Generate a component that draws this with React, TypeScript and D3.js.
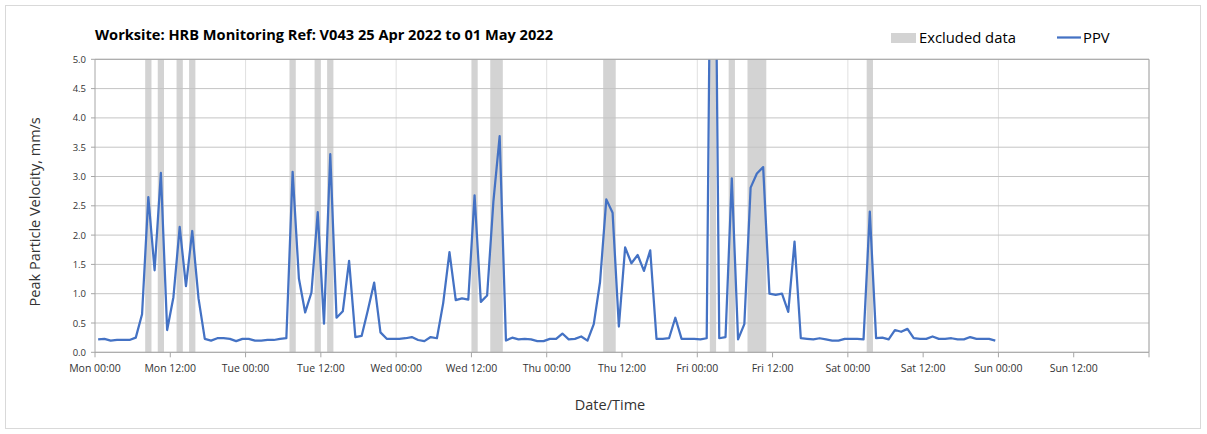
import React from "react";
import * as d3 from "d3";

const TITLE = "Worksite: HRB Monitoring Ref: V043 25 Apr 2022 to 01 May 2022";
const Y_TITLE = "Peak Particle Velocity, mm/s";
const X_TITLE = "Date/Time";

// hourly PPV (mm/s), sample at hour index + 0.5 from Mon 00:00
const ppv: number[] = [
  0.22, 0.23, 0.2, 0.21, 0.21, 0.21, 0.25, 0.65, 2.65, 1.4,
  3.06, 0.38, 0.94, 2.14, 1.13, 2.07, 0.92, 0.23, 0.2, 0.24,
  0.24, 0.23, 0.19, 0.23, 0.23, 0.2, 0.2, 0.21, 0.21, 0.23,
  0.24, 3.08, 1.26, 0.68, 1.02, 2.39, 0.49, 3.38, 0.59, 0.7,
  1.56, 0.26, 0.28, 0.72, 1.19, 0.34, 0.23, 0.23, 0.23, 0.24,
  0.26, 0.21, 0.19, 0.26, 0.24, 0.84, 1.71, 0.89, 0.92, 0.9,
  2.68, 0.86, 0.97, 2.57, 3.69, 0.2, 0.25, 0.22, 0.23, 0.22,
  0.19, 0.19, 0.23, 0.23, 0.32, 0.22, 0.23, 0.27, 0.2, 0.48,
  1.2, 2.61, 2.38, 0.44, 1.79, 1.52, 1.66, 1.39, 1.74, 0.23,
  0.23, 0.24, 0.59, 0.23, 0.23, 0.23, 0.22, 0.24, 12.0, 0.24,
  0.26, 2.97, 0.22, 0.48, 2.81, 3.05, 3.16, 1.0, 0.98, 1.0,
  0.69, 1.89, 0.24, 0.23, 0.22, 0.24, 0.22, 0.2, 0.2, 0.23,
  0.23, 0.23, 0.22, 2.4, 0.24, 0.25, 0.22, 0.38, 0.35, 0.4,
  0.24, 0.23, 0.23, 0.27, 0.23, 0.23, 0.24, 0.22, 0.22, 0.26,
  0.23, 0.23, 0.23, 0.2,
];

// hour bins flagged as excluded data
const excludedHours: number[] = [8, 10, 13, 15, 31, 35, 37, 60, 63, 64, 81, 82, 98, 101, 104, 105, 106, 123];

const xTickLabels: string[] = [
  "Mon 00:00", "Mon 12:00", "Tue 00:00", "Tue 12:00", "Wed 00:00", "Wed 12:00",
  "Thu 00:00", "Thu 12:00", "Fri 00:00", "Fri 12:00", "Sat 00:00", "Sat 12:00",
  "Sun 00:00", "Sun 12:00",
];
const yTicks: number[] = [0, 0.5, 1, 1.5, 2, 2.5, 3, 3.5, 4, 4.5, 5];

const W = 1207;
const H = 434;
const L = 95;
const R = 1149;
const T = 59.3;
const B = 352.3;
const FONT = "'Open Sans', 'Noto Sans', sans-serif";

function spans(hours: number[]): [number, number][] {
  const s = [...hours].sort((a, b) => a - b);
  const out: [number, number][] = [];
  for (const h of s) {
    const last = out[out.length - 1];
    if (last && last[1] === h) last[1] = h + 1;
    else out.push([h, h + 1]);
  }
  return out;
}

export default function App() {
  const x = d3.scaleLinear().domain([0, 168]).range([L, R]);
  const y = d3.scaleLinear().domain([0, 5]).range([B, T]);
  const pts: [number, number][] = ppv.map((v, i) => [i + 0.5, v]);
  const line = d3
    .line<[number, number]>()
    .x((d) => x(d[0]))
    .y((d) => y(d[1]));
  const xTicks = d3.range(0, 169, 12);
  const dayLines = d3.range(24, 169, 24);
  const bands = spans(excludedHours);

  return (
    <svg width={W} height={H} style={{ position: "absolute", left: 0, top: 0, background: "#fff" }}>
      <defs>
        <clipPath id="plotClip">
          <rect x={L} y={T} width={R - L} height={B - T} />
        </clipPath>
      </defs>
      <rect x={5.5} y={5.5} width={1195} height={423} fill="#fff" stroke="#d9d9d9" />
      <text x={95} y={40} fontFamily={FONT} fontWeight="bold" fontSize={14.6} fill="#000">
        {TITLE}
      </text>

      {/* vertical day gridlines */}
      {dayLines.map((t) => (
        <line key={"vg" + t} x1={x(t)} x2={x(t)} y1={T} y2={B} stroke="#e0e0e0" strokeWidth={1} />
      ))}

      {/* excluded bands */}
      {bands.map(([a, b]) => (
        <rect key={"ex" + a} x={x(a)} y={T} width={x(b) - x(a)} height={B - T} fill="#d3d3d3" />
      ))}

      {/* horizontal gridlines */}
      {yTicks.map((v) => (
        <line key={"hg" + v} x1={L} x2={R} y1={y(v)} y2={y(v)} stroke="#c4c4c4" strokeWidth={1} />
      ))}

      {/* data line */}
      <path d={line(pts) || ""} fill="none" stroke="#4472C4" strokeWidth={2.25} strokeLinejoin="round" clipPath="url(#plotClip)" />

      {/* axes */}
      <line x1={L} x2={L} y1={T} y2={B} stroke="#a6a6a6" />
      <line x1={R} x2={R} y1={T} y2={B} stroke="#a6a6a6" />
      <line x1={L} x2={R} y1={B} y2={B} stroke="#a6a6a6" />
      <line x1={L} x2={R} y1={T} y2={T} stroke="#a6a6a6" />
      {yTicks.map((v) => (
        <g key={"yt" + v}>
          <line x1={L - 4} x2={L} y1={y(v)} y2={y(v)} stroke="#a6a6a6" />
          <text x={L - 9} y={y(v) + 3.5} textAnchor="end" fontFamily={FONT} fontSize={9.5} fill="#333">
            {v.toFixed(1)}
          </text>
        </g>
      ))}
      {xTicks.map((t, i) => (
        <g key={"xt" + t}>
          <line x1={x(t)} x2={x(t)} y1={B} y2={B + 5} stroke="#a6a6a6" />
          {xTickLabels[i] !== undefined && (
            <text x={x(t)} y={372} textAnchor="middle" fontFamily={FONT} fontSize={10.5} fill="#333">
              {xTickLabels[i]}
            </text>
          )}
        </g>
      ))}

      <text x={610} y={410} textAnchor="middle" fontFamily={FONT} fontSize={14.5} fill="#333">
        {X_TITLE}
      </text>
      <text
        transform={`translate(40, ${(T + B) / 2 + 6}) rotate(-90)`}
        textAnchor="middle"
        fontFamily={FONT}
        fontSize={14.5}
        fill="#333"
      >
        {Y_TITLE}
      </text>

      {/* legend */}
      <rect x={891} y={33} width={25} height={10} fill="#d3d3d3" />
      <text x={919} y={43} fontFamily={FONT} fontSize={14.8} fill="#000">
        Excluded data
      </text>
      <line x1={1057} x2={1081} y1={37.5} y2={37.5} stroke="#4472C4" strokeWidth={2.25} />
      <text x={1083} y={43} fontFamily={FONT} fontSize={14.8} fill="#000">
        PPV
      </text>
    </svg>
  );
}
